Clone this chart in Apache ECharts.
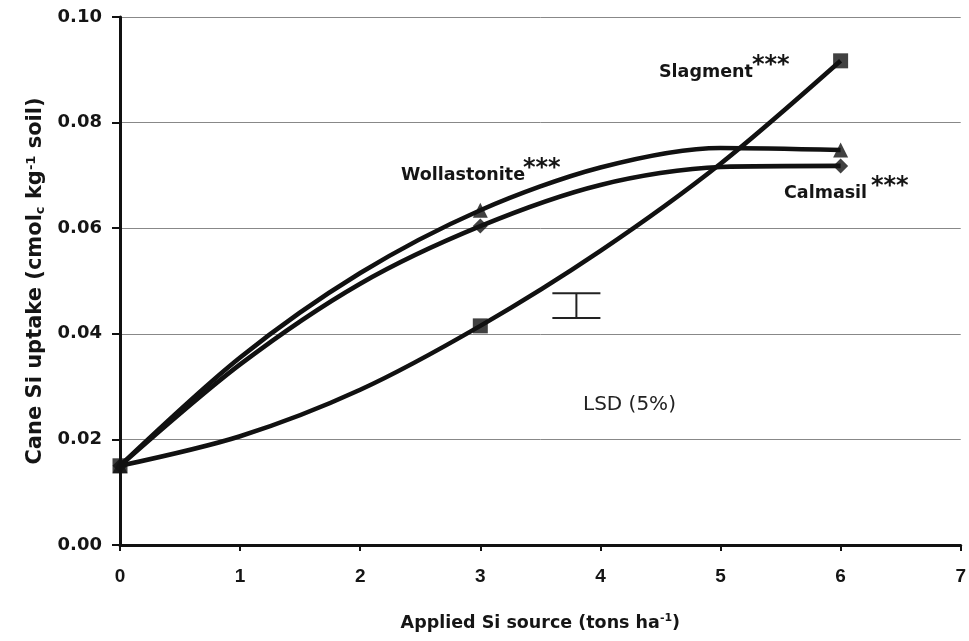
<!DOCTYPE html>
<html><head><meta charset="utf-8">
<script src="https://cdn.jsdelivr.net/npm/echarts@6/dist/echarts.min.js"></script>
<style>html,body{margin:0;padding:0;background:#fff}#c{width:969px;height:641px}</style>
</head><body><div id="c"></div>
<script>
// Curve values (fitted curves) at x = 0..6
const curveX = [0, 1, 2, 3, 4, 5, 6];
const slagmentCurve = [0.015, 0.0206, 0.0294, 0.0415, 0.0557, 0.0722, 0.0917];
const wollastoniteCurve = [0.015, 0.0355, 0.0515, 0.0634, 0.0715, 0.0752, 0.0748];
const calmasilCurve = [0.015, 0.0342, 0.0495, 0.0604, 0.0682, 0.0716, 0.0718];
// Measured points (markers)
const pointX = [0, 3, 6];
const slagmentPts = [0.015, 0.0415, 0.0917];
const wollastonitePts = [0.015, 0.0634, 0.0748];
const calmasilPts = [0.015, 0.0604, 0.0718];
// LSD (5%) bar
const lsdX = 3.8;
const lsdLow = 0.043;
const lsdHigh = 0.0477;
const yTicks = ['0.00','0.02','0.04','0.06','0.08','0.10'];

const zip = (xs, ys) => xs.map((x, i) => [x, ys[i]]);
const font = 'Liberation Sans, Arial, sans-serif';
const dfont = 'DejaVu Sans, sans-serif';
const ink = '#151515';

const chart = echarts.init(document.getElementById('c'));
const lineStyle = {color: '#111', width: 4.6};
function curve(name, xs, ys) {
  return {name, type: 'line', smooth: 0.3, data: zip(xs, ys), symbol: 'none',
    lineStyle, z: 3, silent: true};
}
function pts(name, ys, symbol, size) {
  return {name: name + ' pts', type: 'scatter', data: zip(pointX, ys), symbol, symbolSize: size,
    itemStyle: {color: '#111'}, z: 4, silent: true};
}
function word(txt, x, y) {
  return {type: 'text', left: x, top: y, z: 10,
    style: {text: txt, font: 'bold 17.5px DejaVu Sans, sans-serif', fill: ink}};
}
function stars(x, y) {
  return {type: 'text', left: x, top: y, z: 10,
    style: {text: '***', font: 'bold 24px DejaVu Sans, sans-serif', fill: ink}};
}
chart.setOption({
  animation: false,
  grid: {left: 120, right: 6, top: 17, bottom: 96},
  xAxis: {
    type: 'value', min: 0, max: 7, interval: 1,
    axisLine: {show: true, lineStyle: {color: '#111', width: 3}},
    axisTick: {show: true, length: 6, lineStyle: {color: '#111', width: 2}},
    axisLabel: {color: ink, fontFamily: font, fontWeight: 'bold', fontSize: 19, margin: 22},
    splitLine: {show: false},
    name: '{a|Applied Si source (tons ha}{s|-1}{a|)}',
    nameLocation: 'middle', nameGap: 68,
    nameTextStyle: {rich: {
      a: {fontFamily: dfont, fontWeight: 'bold', fontSize: 17.5, color: ink},
      s: {fontFamily: dfont, fontWeight: 'bold', fontSize: 11, color: ink, verticalAlign: 'top', padding: [0,0,9,0]}
    }}
  },
  yAxis: {
    type: 'value', min: 0, max: 0.10, interval: 0.02,
    axisLine: {show: true, lineStyle: {color: '#111', width: 3}},
    axisTick: {show: true, length: 8, lineStyle: {color: '#111', width: 2}},
    axisLabel: {color: ink, fontFamily: dfont, fontWeight: 'bold', fontSize: 18, margin: 18,
      formatter: (v) => yTicks[Math.round(v / 0.02)]},
    splitLine: {show: true, lineStyle: {color: '#888', width: 1}},
    name: '{a|Cane Si uptake (cmol}{b|c}{a| kg}{s|-1}{a| soil)}',
    nameLocation: 'middle', nameGap: 73, nameRotate: 90,
    nameTextStyle: {rich: {
      a: {fontFamily: dfont, fontWeight: 'bold', fontSize: 21, color: ink},
      b: {fontFamily: dfont, fontWeight: 'bold', fontSize: 13, color: ink, verticalAlign: 'bottom', padding: [9,0,0,0]},
      s: {fontFamily: dfont, fontWeight: 'bold', fontSize: 13, color: ink, verticalAlign: 'top', padding: [0,0,9,0]}
    }}
  },
  series: [
    curve('Slagment', curveX, slagmentCurve),
    curve('Wollastonite', curveX, wollastoniteCurve),
    curve('Calmasil', curveX, calmasilCurve),
    pts('Calmasil', calmasilPts, 'diamond', 15),
    pts('Wollastonite', wollastonitePts, 'triangle', 15),
    pts('Slagment', slagmentPts, 'rect', 15),
    {
      type: 'custom', silent: true, z: 5,
      data: [[lsdX, lsdLow, lsdHigh]],
      renderItem: function (params, api) {
        const top = api.coord([api.value(0), api.value(2)]);
        const bot = api.coord([api.value(0), api.value(1)]);
        const hw = api.size([0.2, 0])[0];
        const st = {stroke: '#222', lineWidth: 2};
        return {type: 'group', children: [
          {type: 'line', shape: {x1: top[0], y1: top[1], x2: bot[0], y2: bot[1]}, style: st},
          {type: 'line', shape: {x1: top[0] - hw, y1: top[1], x2: top[0] + hw, y2: top[1]}, style: st},
          {type: 'line', shape: {x1: bot[0] - hw, y1: bot[1], x2: bot[0] + hw, y2: bot[1]}, style: st}
        ]};
      }
    }
  ],
  graphic: [
    word('Slagment', 659, 63),
    stars(752, 54),
    word('Wollastonite', 401, 166),
    stars(523, 157),
    word('Calmasil', 784, 184),
    stars(871, 175),
    {type: 'text', left: 583, top: 395, style: {text: 'LSD (5%)', font: '20px DejaVu Sans, sans-serif', fill: '#222'}}
  ]
});
</script></body></html>
